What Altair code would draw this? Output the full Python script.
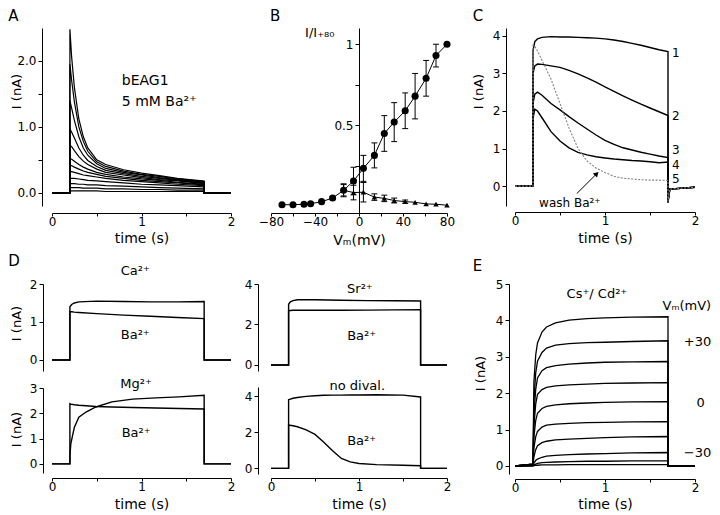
import altair as alt
import pandas as pd

FONT = "DejaVu Sans"

# ---------------- Panel A : bEAG1 in 5 mM Ba2+ ----------------
A_T = [0.0, 0.2, 0.2, 0.22, 0.25, 0.3, 0.35, 0.4, 0.5, 0.6, 0.8, 1.0, 1.2, 1.4, 1.7, 1.7, 2.0]
A_I = [
    [0, 0, 2.48, 2.05, 1.60, 1.12, 0.85, 0.68, 0.50, 0.43, 0.35, 0.30, 0.26, 0.22, 0.18, 0, 0],
    [0, 0, 1.95, 1.70, 1.38, 1.00, 0.78, 0.63, 0.47, 0.40, 0.33, 0.28, 0.25, 0.21, 0.17, 0, 0],
    [0, 0, 1.40, 1.28, 1.10, 0.85, 0.68, 0.57, 0.44, 0.37, 0.31, 0.27, 0.23, 0.20, 0.16, 0, 0],
    [0, 0, 0.97, 0.92, 0.83, 0.68, 0.57, 0.49, 0.40, 0.34, 0.29, 0.25, 0.22, 0.19, 0.15, 0, 0],
    [0, 0, 0.72, 0.70, 0.64, 0.55, 0.48, 0.43, 0.36, 0.31, 0.27, 0.23, 0.20, 0.18, 0.14, 0, 0],
    [0, 0, 0.52, 0.51, 0.48, 0.43, 0.39, 0.36, 0.31, 0.28, 0.24, 0.21, 0.19, 0.16, 0.13, 0, 0],
    [0, 0, 0.42, 0.41, 0.39, 0.36, 0.33, 0.31, 0.28, 0.25, 0.22, 0.19, 0.17, 0.15, 0.12, 0, 0],
    [0, 0, 0.32, 0.32, 0.31, 0.29, 0.27, 0.26, 0.24, 0.22, 0.19, 0.17, 0.15, 0.13, 0.11, 0, 0],
    [0, 0, 0.22, 0.22, 0.22, 0.21, 0.20, 0.19, 0.18, 0.17, 0.15, 0.13, 0.12, 0.11, 0.09, 0, 0],
    [0, 0, 0.14, 0.14, 0.14, 0.13, 0.13, 0.12, 0.12, 0.11, 0.10, 0.09, 0.08, 0.07, 0.06, 0, 0],
    [0, 0, 0.08, 0.08, 0.08, 0.08, 0.07, 0.07, 0.07, 0.06, 0.06, 0.05, 0.05, 0.04, 0.04, 0, 0],
    [0, 0, 0.03, 0.03, 0.03, 0.03, 0.03, 0.03, 0.03, 0.02, 0.02, 0.02, 0.02, 0.02, 0.02, 0, 0],
]
A_NOTES = ["bEAG1", "5 mM Ba²⁺"]
A_NOTES_T = [0.78, 0.78]
A_NOTES_V = [1.70, 1.38]

# ---------------- Panel B : normalised I-V ----------------
B_VM = [-70, -60, -50, -44, -34, -24, -14, -5, 4, 14, 23, 32, 42, 51, 61, 70, 80]
B_I = [0.011, 0.011, 0.014, 0.017, 0.03, 0.052, 0.10, 0.157, 0.235, 0.315, 0.45, 0.52, 0.59, 0.68, 0.79, 0.93, 1.0]
B_ERR = [0, 0, 0, 0, 0, 0.01, 0.04, 0.085, 0.08, 0.077, 0.11, 0.12, 0.11, 0.14, 0.11, 0.07, 0]
B_VM_TRI = [-14, -5, 4, 14, 23, 32, 42, 51, 61, 70, 80]
B_I_TRI = [0.10, 0.086, 0.088, 0.058, 0.05, 0.037, 0.03, 0.026, 0.016, 0.014, 0.008]
B_ERR_TRI = [0.035, 0.045, 0.06, 0.02, 0.02, 0.015, 0.01, 0, 0, 0, 0]
B_CAP_HALF = 2.7   # half width of error-bar caps, in mV

# ---------------- Panel C : wash-out series ----------------
C_T = [0.0, 0.2, 0.2, 0.22, 0.25, 0.3, 0.4, 0.5, 0.6, 0.7, 0.8, 0.9, 1.0, 1.1, 1.2,
       1.3, 1.4, 1.5, 1.6, 1.7, 1.7, 1.72, 2.0]
C_I = [
    [0, 0, 3.60, 3.85, 3.92, 3.96, 3.98, 3.97, 3.97, 3.96, 3.95, 3.94, 3.92, 3.89, 3.85,
     3.80, 3.75, 3.69, 3.63, 3.58, -0.45, -0.08, -0.03],
    [0, 0, 3.00, 3.20, 3.25, 3.24, 3.20, 3.16, 3.08, 2.99, 2.88, 2.77, 2.64, 2.52, 2.40,
     2.29, 2.18, 2.08, 1.98, 1.88, -0.40, -0.08, -0.03],
    [0, 0, 2.20, 2.45, 2.50, 2.42, 2.20, 2.03, 1.85, 1.68, 1.52, 1.36, 1.22, 1.11, 1.02,
     0.96, 0.90, 0.85, 0.80, 0.76, -0.40, -0.08, -0.03],
    [0, 0, 1.80, 2.05, 2.00, 1.82, 1.45, 1.20, 1.02, 0.90, 0.83, 0.78, 0.75, 0.72, 0.70,
     0.68, 0.67, 0.65, 0.62, 0.64, -0.40, -0.08, -0.03],
]
C_WASH = [0, 0, 3.75, 3.72, 3.60, 3.35, 2.85, 2.20, 1.55, 1.00, 0.67, 0.48, 0.36, 0.26, 0.21,
          0.19, 0.17, 0.16, 0.16, 0.15, -0.40, -0.08, -0.03]
C_NUMS = ["1", "2", "3", "4", "5"]
C_NUMS_T = [1.745, 1.745, 1.745, 1.745, 1.745]
C_NUMS_V = [3.54, 1.87, 0.95, 0.56, 0.19]
C_WASH_LABEL = ["wash Ba²⁺"]
C_WASH_T = [0.61]
C_WASH_V = [-0.44]
C_ARROW = {"t": [0.686], "v": [-0.20], "t2": [0.908], "v2": [0.33]}

# ---------------- Panel D : divalent ions ----------------
D_T = [0.0, 0.2, 0.2, 0.22, 0.25, 0.3, 0.5, 0.8, 1.1, 1.4, 1.7, 1.7, 2.0]
D_CA = [0, 0, 1.40, 1.46, 1.50, 1.53, 1.55, 1.54, 1.53, 1.53, 1.54, 0, 0]
D_CA_BA = [0, 0, 1.27, 1.27, 1.26, 1.25, 1.22, 1.18, 1.15, 1.12, 1.09, 0, 0]
D_SR = [0, 0, 3.00, 3.12, 3.18, 3.22, 3.22, 3.20, 3.18, 3.17, 3.16, 0, 0]
D_SR_BA = [0, 0, 2.68, 2.69, 2.70, 2.70, 2.70, 2.70, 2.71, 2.72, 2.73, 0, 0]
D_T_MG = [0.0, 0.2, 0.2, 0.21, 0.25, 0.3, 0.38, 0.49, 0.67, 0.9, 1.16, 1.42, 1.7, 1.7, 2.0]
D_MG = [0, 0, 0.30, 0.79, 1.45, 1.85, 2.05, 2.25, 2.45, 2.56, 2.61, 2.65, 2.71, 0, 0]
D_MG_BA = [0, 0, 2.38, 2.36, 2.34, 2.32, 2.30, 2.27, 2.25, 2.23, 2.21, 2.19, 2.17, 0, 0]
D_T_ND = [0.0, 0.2, 0.2, 0.25, 0.3, 0.4, 0.5, 0.6, 0.7, 0.8, 0.9, 1.0, 1.2, 1.5, 1.7, 1.7, 2.0]
D_ND = [0, 0, 3.80, 3.88, 3.92, 3.98, 4.02, 4.04, 4.05, 4.05, 4.06, 4.06, 4.07, 4.05, 3.95, 0, 0]
D_ND_BA = [0, 0, 2.40, 2.36, 2.30, 2.13, 1.88, 1.45, 0.98, 0.55, 0.36, 0.27, 0.21, 0.17, 0.15, 0, 0]

# ---------------- Panel E : Cs+ / Cd2+ family ----------------
E_T = [0.0, 0.2, 0.21, 0.23, 0.25, 0.3, 0.35, 0.45, 0.6, 0.8, 1.0, 1.3, 1.7, 1.7, 2.0]
E_I = [
    [0, 0.05, 2.30, 3.05, 3.38, 3.68, 3.82, 3.93, 4.01, 4.05, 4.07, 4.09, 4.10, 0, 0],
    [0, 0.05, 1.80, 2.55, 2.88, 3.12, 3.24, 3.32, 3.36, 3.39, 3.40, 3.42, 3.44, 0, 0],
    [0, 0.05, 1.40, 2.10, 2.42, 2.62, 2.70, 2.76, 2.80, 2.83, 2.85, 2.86, 2.87, 0, 0],
    [0, 0.05, 1.10, 1.70, 1.97, 2.10, 2.16, 2.20, 2.23, 2.25, 2.27, 2.28, 2.29, 0, 0],
    [0, 0.04, 0.80, 1.25, 1.45, 1.58, 1.64, 1.68, 1.71, 1.73, 1.75, 1.76, 1.77, 0, 0],
    [0, 0.04, 0.50, 0.80, 0.95, 1.07, 1.12, 1.15, 1.17, 1.19, 1.20, 1.21, 1.22, 0, 0],
    [0, 0.03, 0.25, 0.45, 0.56, 0.64, 0.68, 0.72, 0.74, 0.76, 0.78, 0.80, 0.81, 0, 0],
    [0, 0.02, 0.08, 0.15, 0.19, 0.24, 0.27, 0.29, 0.31, 0.33, 0.34, 0.36, 0.37, 0, 0],
    [0, 0.01, 0.03, 0.05, 0.07, 0.09, 0.10, 0.11, 0.12, 0.13, 0.13, 0.14, 0.14, 0, 0],
    [0, 0.00, 0.01, 0.02, 0.02, 0.03, 0.03, 0.03, 0.04, 0.04, 0.04, 0.04, 0.04, 0, 0],
]
E_LABELS = ["Vₘ(mV)", "+30", "0", "−30"]
E_LABELS_T = [2.18, 2.18, 2.11, 2.18]
E_LABELS_V = [4.40, 3.41, 1.74, 0.36]

# panel letters: (t, v) in each panel's own data units
LETTERS = {"A": (-0.49, 2.79), "B": (-80.9, 1.217), "C": (-0.47, 4.72),
           "D": (-0.49, 2.79), "E": (-0.47, 5.69)}

AX_STYLE = dict(grid=False, domainColor="black", tickColor="black", labelColor="black",
                titleColor="black", labelFont=FONT, titleFont=FONT, labelFontSize=12,
                titleFontSize=14, titleFontWeight="normal")


# ---------------- helpers ----------------
def traces_df(times, series):
    rows = []
    for k, vals in enumerate(series):
        for i, (t, v) in enumerate(zip(times, vals)):
            rows.append({"t": t, "v": v, "trace": k, "i": i})
    return pd.DataFrame(rows)


def notes_df(labels, ts, vs):
    return pd.DataFrame({"label": labels, "t": ts, "v": vs})


def sc(domain, rng=None):
    kw = dict(domain=domain, nice=False, zero=False)
    if rng is not None:
        kw["range"] = rng
    return alt.Scale(**kw)


# every layer of a panel carries the panel's axis objects (an axis=None layer would
# switch the shared axis off)
def X(xs, axis, field="t"):
    return alt.X(f"{field}:Q", scale=xs, axis=axis)


def Y(ys, axis, field="v"):
    return alt.Y(f"{field}:Q", scale=ys, axis=axis)


def lines(df, xs, ys, xax, yax, color="black", width=1.3, dash=None):
    kw = dict(color=color, strokeWidth=width)
    if dash:
        kw["strokeDash"] = dash
    return alt.Chart(df).mark_line(**kw).encode(
        x=X(xs, xax), y=Y(ys, yax), detail="trace:N", order="i:Q")


def texts(df, xs, ys, xax, yax, size=13, align="left", baseline="middle"):
    return alt.Chart(df).mark_text(font=FONT, fontSize=size, align=align,
                                   baseline=baseline, color="black").encode(
        x=X(xs, xax), y=Y(ys, yax), text="label:N")


def letter(name, xs, ys, xax, yax):
    t, v = LETTERS[name]
    return texts(notes_df([name], [t], [v]), xs, ys, xax, yax, size=15, baseline="top")


def time_axis(offset, ty):
    return alt.Axis(values=[0, 0.5, 1, 1.5, 2],
                    labelExpr="datum.value % 1 == 0 ? format(datum.value, 'd') : ''",
                    title="time (s)", offset=offset, labelFlush=False, tickSize=3,
                    labelPadding=0, titleY=ty, titleBaseline="middle", **AX_STYLE)


def cur_axis(values, offset, tx, ty, label_expr=None, title="I (nA)"):
    kw = dict(values=values, offset=offset, labelFlush=False, orient="left", tickSize=4)
    kw.update(AX_STYLE)
    if title:
        kw.update(title=title, titleX=tx, titleY=ty, titleAngle=270, titleAlign="center",
                  titleBaseline="middle", titleFontSize=13)
    else:
        kw["title"] = None
    if label_expr:
        kw["labelExpr"] = label_expr
    else:
        kw["format"] = "d"
    return alt.Axis(**kw)


# ---------------- Panel A ----------------
xsA, ysA = sc([0, 2]), sc([-0.2, 2.5])
axAx = time_axis(7, 25)
axAy = cur_axis([0, 0.5, 1, 1.5, 2], 10, -26, 63,
                "datum.value % 1 == 0 ? format(datum.value, '.1f') : ''")
pA = alt.layer(
    lines(traces_df(A_T, A_I), xsA, ysA, axAx, axAy, width=1.2),
    texts(notes_df(A_NOTES, A_NOTES_T, A_NOTES_V), xsA, ysA, axAx, axAy, size=14),
    letter("A", xsA, ysA, axAx, axAy),
).properties(width=179, height=178)

# ---------------- Panel B ----------------
xsB, ysB = sc([-80, 80], [0, 176]), sc([-0.04, 1.1])
axBx = alt.Axis(values=list(range(-80, 81, 20)),
                labelExpr="datum.value % 40 == 0 ? format(datum.value, 'd') : ''",
                title="Vₘ(mV)", labelFlush=False, tickSize=3, labelPadding=0, titleY=27,
                titleBaseline="middle", **AX_STYLE)
axBy = alt.Axis(values=[0.25, 0.5, 0.75, 1.0],
                labelExpr="datum.value == 0.5 ? '0.5' : (datum.value == 1 ? '1' : '')",
                offset=-88, title=None, labelFlush=False, tickSize=4, **AX_STYLE)
dfB = pd.DataFrame({"t": B_VM, "v": B_I, "i": range(len(B_VM)), "trace": 0})
dfBt = pd.DataFrame({"t": B_VM_TRI, "v": B_I_TRI, "i": range(len(B_VM_TRI)), "trace": 1})
errB = pd.DataFrame({"t": B_VM + B_VM_TRI, "c": B_I + B_I_TRI, "e": B_ERR + B_ERR_TRI})
errB = errB[errB["e"] > 0].copy()
errB["lo"] = errB["c"] - errB["e"]
errB["hi"] = errB["c"] + errB["e"]
capsB = pd.DataFrame({"t": list(errB["t"] - B_CAP_HALF) * 2,
                      "t2": list(errB["t"] + B_CAP_HALF) * 2,
                      "v": list(errB["lo"]) + list(errB["hi"])})

pB = alt.layer(
    lines(dfB, xsB, ysB, axBx, axBy, width=1),
    lines(dfBt, xsB, ysB, axBx, axBy, width=1),
    alt.Chart(errB).mark_rule(color="black", strokeWidth=1).encode(
        x=X(xsB, axBx), y=Y(ysB, axBy, field="lo"), y2="hi:Q"),
    alt.Chart(capsB).mark_rule(color="black", strokeWidth=1).encode(
        x=X(xsB, axBx), x2="t2:Q", y=Y(ysB, axBy)),
    alt.Chart(dfBt).mark_point(shape="triangle-up", filled=True, size=30, color="black",
                               opacity=1).encode(x=X(xsB, axBx), y=Y(ysB, axBy)),
    alt.Chart(dfB).mark_point(shape="circle", filled=True, size=50, color="black",
                              opacity=1).encode(x=X(xsB, axBx), y=Y(ysB, axBy)),
    texts(notes_df(["I/I₊₈₀"], [-49], [1.07]), xsB, ysB, axBx, axBy, size=13),
    letter("B", xsB, ysB, axBx, axBy),
).properties(width=204, height=185)

# ---------------- Panel C ----------------
xsC, ysC = sc([0, 2]), sc([-0.53, 4.21])
axCx = time_axis(6, 26)
axCy = cur_axis([0, 1, 2, 3, 4], 9, -28, 63)
arrow_df = pd.DataFrame(C_ARROW)
pC = alt.layer(
    lines(traces_df(C_T, C_I), xsC, ysC, axCx, axCy, width=1.4),
    lines(traces_df(C_T, [C_WASH]), xsC, ysC, axCx, axCy, color="#808080", width=1.1,
          dash=[2, 1.5]),
    alt.Chart(arrow_df).mark_rule(color="black", strokeWidth=1).encode(
        x=X(xsC, axCx), y=Y(ysC, axCy), x2="t2:Q", y2="v2:Q"),
    alt.Chart(arrow_df).mark_point(shape="triangle-up", angle=45, size=35, filled=True,
                                   color="black", opacity=1).encode(
        x=X(xsC, axCx, field="t2"), y=Y(ysC, axCy, field="v2")),
    texts(notes_df(C_NUMS, C_NUMS_T, C_NUMS_V), xsC, ysC, axCx, axCy, size=12),
    texts(notes_df(C_WASH_LABEL, C_WASH_T, C_WASH_V), xsC, ysC, axCx, axCy, size=12,
          align="center"),
    letter("C", xsC, ysC, axCx, axCy),
).properties(width=180, height=178)

# ---------------- Panel D (two stacked sub-panels per column) ----------------
xsD1 = sc([0, 2])
ysD1 = sc([-0.29, 2.0], [87, 0])
ysD3 = sc([-0.36, 3.0], [189, 104])
axD1x = time_axis(4, 26)
axD1y = cur_axis([0, 1, 2], 9, -27, 39)
axD3y = cur_axis([0, 1, 2, 3], 9, -27, 145)
pDc1 = alt.layer(
    alt.layer(
        lines(traces_df(D_T, [D_CA, D_CA_BA]), xsD1, ysD1, axD1x, axD1y, width=1.4),
        texts(notes_df(["Ca²⁺", "Ba²⁺"], [0.93, 0.93], [2.34, 0.66]), xsD1, ysD1,
              axD1x, axD1y, align="center"),
        letter("D", xsD1, ysD1, axD1x, axD1y),
    ),
    alt.layer(
        lines(traces_df(D_T_MG, [D_MG, D_MG_BA]), xsD1, ysD3, axD1x, axD3y, width=1.4),
        texts(notes_df(["Mg²⁺", "Ba²⁺"], [0.94, 0.94], [3.15, 1.22]), xsD1, ysD3,
              axD1x, axD3y, align="center"),
    ),
).resolve_scale(y="independent").resolve_axis(y="independent").properties(width=179, height=190)

xsD2 = sc([0, 2], [0, 176])
ysD2 = sc([-0.3, 4.0], [87, 0])
ysD4 = sc([-0.31, 4.5], [190, 103])
axD2x = time_axis(4, 26)
axD2y = cur_axis([0, 2, 4], 13, 0, 0, title=None)
axD4y = cur_axis([0, 2, 4], 13, 0, 0, title=None)
pDc2 = alt.layer(
    alt.layer(
        lines(traces_df(D_T, [D_SR, D_SR_BA]), xsD2, ysD2, axD2x, axD2y, width=1.4),
        texts(notes_df(["Sr²⁺", "Ba²⁺"], [1.01, 1.03], [3.75, 1.43]), xsD2, ysD2,
              axD2x, axD2y, align="center"),
    ),
    alt.layer(
        lines(traces_df(D_T_ND, [D_ND, D_ND_BA]), xsD2, ysD4, axD2x, axD4y, width=1.4),
        texts(notes_df(["no dival.", "Ba²⁺"], [0.98, 1.03], [4.55, 1.51]), xsD2, ysD4,
              axD2x, axD4y, align="center"),
    ),
).resolve_scale(y="independent").resolve_axis(y="independent").properties(width=204, height=190)

# ---------------- Panel E ----------------
xsE, ysE = sc([0, 2]), sc([-0.22, 5.0])
axEx = time_axis(5, 25)
axEy = cur_axis([0, 1, 2, 3, 4, 5], 6, -29, 89)
pE = alt.layer(
    lines(traces_df(E_T, E_I), xsE, ysE, axEx, axEy, width=1.3),
    texts(notes_df(["Cs⁺/ Cd²⁺"], [0.91], [4.73]), xsE, ysE, axEx, axEy, align="center"),
    texts(notes_df(E_LABELS, E_LABELS_T, E_LABELS_V), xsE, ysE, axEx, axEy, align="right"),
    letter("E", xsE, ysE, axEx, axEy),
).properties(width=180, height=190)

# ---------------- layout ----------------
chart = alt.concat(
    pA, pB, pC, pDc1, pDc2, pE,
    columns=3, spacing={"row": 71, "column": 40}, bounds="flush",
).properties(
    padding={"left": 0, "top": 0, "right": 0, "bottom": 0}
).configure_view(stroke=None)

chart.save("out.html", embed_options={"renderer": "svg", "actions": False})
